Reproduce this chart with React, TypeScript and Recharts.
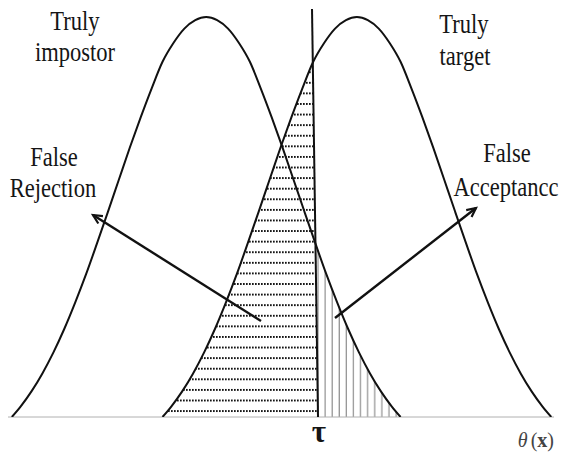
import React from 'react';
import { ComposedChart, Line, Area, XAxis, YAxis, ReferenceLine } from 'recharts';

// θ(x) positions and densities (θ scale 0..100, density peak = 1)
const impostorTheta = [0.7, 2.3, 4.3, 6.3, 8.3, 10.3, 12.3, 14.3, 16.3, 18.3, 20.3, 22.3, 24.3, 26.3, 28.3, 30.3, 32.3, 34.3, 36.3, 38.3, 40.3, 42.3, 44.3, 46.3, 48.3, 50.3, 52.3, 54.3, 56.3, 58.3, 60.3, 62.3, 64.3, 66.3, 68.3, 70.3, 71.9];
const impostorDensity = [0, 0.026, 0.064, 0.109, 0.161, 0.22, 0.286, 0.357, 0.434, 0.513, 0.593, 0.673, 0.749, 0.821, 0.888, 0.935, 0.971, 0.992, 1.0, 0.992, 0.971, 0.935, 0.888, 0.821, 0.749, 0.673, 0.593, 0.513, 0.434, 0.357, 0.286, 0.22, 0.161, 0.109, 0.064, 0.026, 0];
const targetTheta = [28.3, 29.9, 31.9, 33.9, 35.9, 37.9, 39.9, 41.9, 43.9, 45.9, 47.9, 49.9, 51.9, 53.9, 55.9, 57.9, 59.9, 61.9, 63.9, 65.9, 67.9, 69.9, 71.9, 73.9, 75.9, 77.9, 79.9, 81.9, 83.9, 85.9, 87.9, 89.9, 91.9, 93.9, 95.9, 97.9, 99.5];
const targetDensity = [0, 0.026, 0.064, 0.109, 0.161, 0.22, 0.286, 0.357, 0.434, 0.513, 0.593, 0.673, 0.749, 0.821, 0.888, 0.935, 0.971, 0.992, 1.0, 0.992, 0.971, 0.935, 0.888, 0.821, 0.749, 0.673, 0.593, 0.513, 0.434, 0.357, 0.286, 0.22, 0.161, 0.109, 0.064, 0.026, 0];

// threshold τ (line slightly slanted in the source: top, bottom)
const tauTopTheta = 55.68;
const tauBottomTheta = 56.78;
const tauTargetCross = { x: 55.82, y: 0.886 };
const tauImpostorCrossTheta = 56.3;

// annotation arrows (tail -> head) in θ / density units
const rejectionArrow = [{ x: 46.34, y: 0.24 }, { x: 15.57, y: 0.505 }];
const acceptanceArrow = [{ x: 59.89, y: 0.2475 }, { x: 85.71, y: 0.5225 }];

const impostorData = impostorTheta.map((x, i) => ({ x, y: impostorDensity[i] }));
const targetData = targetTheta.map((x, i) => ({ x, y: targetDensity[i] }));
const rejectionRegion = [
  ...targetData.filter((d) => d.x < tauTargetCross.x),
  tauTargetCross,
  { x: tauBottomTheta, y: 0 },
];
const acceptanceRegion = impostorData.filter((d) => d.x >= tauImpostorCrossTheta);

const FONT = "'Liberation Serif', 'Times New Roman', serif";

const ArrowShape = (props: any) => {
  const { x1, y1, x2, y2 } = props;
  if ([x1, y1, x2, y2].some((v) => typeof v !== 'number' || isNaN(v))) return null;
  const ang = Math.atan2(y2 - y1, x2 - x1);
  const L = 10;
  const a = 0.45;
  const p1 = [x2 - L * Math.cos(ang - a), y2 - L * Math.sin(ang - a)];
  const p2 = [x2 - L * Math.cos(ang + a), y2 - L * Math.sin(ang + a)];
  return (
    <g>
      <line x1={x1} y1={y1} x2={x2} y2={y2} stroke="#111" strokeWidth={2.4} />
      <polyline
        points={`${p1[0]},${p1[1]} ${x2},${y2} ${p2[0]},${p2[1]}`}
        fill="none"
        stroke="#111"
        strokeWidth={2.2}
        strokeLinejoin="miter"
      />
    </g>
  );
};

const textStyle = { fontFamily: FONT, fontSize: 23, fill: '#151515' } as const;

const Label = ({ x, y, children }: { x: number; y: number; children: React.ReactNode }) => (
  <text
    x={0}
    y={0}
    transform={`translate(${x} ${y}) scale(0.98 1.17)`}
    textAnchor="middle"
    style={textStyle}
  >
    {children}
  </text>
);

export default function App() {
  return (
    <div style={{ position: 'absolute', left: 0, top: 0, background: '#fff' }}>
      <ComposedChart
        width={565}
        height={457}
        margin={{ top: 9, right: 11, bottom: 40, left: 8 }}
      >
        <defs>
          <pattern id="dots" patternUnits="userSpaceOnUse" width={3} height={10.59}>
            <rect x={0} y={7.7} width={1.7} height={1.9} fill="#111" />
          </pattern>
          <pattern id="vlines" patternUnits="userSpaceOnUse" width={7.1} height={10}>
            <rect x={5.0} y={0} width={1.1} height={10} fill="#858585" />
          </pattern>
        </defs>
        <XAxis type="number" dataKey="x" domain={[0, 100]} hide allowDataOverflow />
        <YAxis type="number" domain={[0, 1.02]} hide allowDataOverflow />
        <Area
          data={rejectionRegion}
          dataKey="y"
          type="linear"
          stroke="none"
          fill="url(#dots)"
          fillOpacity={1}
          isAnimationActive={false}
        />
        <Area
          data={acceptanceRegion}
          dataKey="y"
          type="linear"
          stroke="none"
          fill="url(#vlines)"
          fillOpacity={1}
          isAnimationActive={false}
        />
        <ReferenceLine y={0} stroke="#b0b0b0" strokeWidth={1} />
        <Line
          data={impostorData}
          dataKey="y"
          type="monotone"
          stroke="#111"
          strokeWidth={2}
          dot={false}
          activeDot={false}
          isAnimationActive={false}
        />
        <Line
          data={targetData}
          dataKey="y"
          type="monotone"
          stroke="#111"
          strokeWidth={2}
          dot={false}
          activeDot={false}
          isAnimationActive={false}
        />
        <ReferenceLine
          segment={[{ x: tauTopTheta, y: 1.02 }, { x: tauBottomTheta, y: 0 }]}
          stroke="#111"
          strokeWidth={2}
        />
        <ReferenceLine segment={rejectionArrow} shape={ArrowShape} />
        <ReferenceLine segment={acceptanceArrow} shape={ArrowShape} />

        <Label x={75} y={30}>Truly</Label>
        <Label x={75} y={61}>impostor</Label>
        <Label x={464} y={33}>Truly</Label>
        <Label x={465} y={65}>target</Label>
        <Label x={54} y={166}>False</Label>
        <Label x={53} y={197}>Rejection</Label>
        <Label x={507} y={162}>False</Label>
        <Label x={506} y={196}>Acceptancc</Label>
        <text x={319} y={442} textAnchor="middle" style={{ fontFamily: FONT, fontSize: 31, fontWeight: 700, fill: '#151515' }}>τ</text>
        <text x={554} y={447} textAnchor="end" style={{ fontFamily: FONT, fontSize: 20, fill: '#444' }}>
          <tspan fontStyle="italic">θ</tspan>
          <tspan dx={3}>(</tspan>
          <tspan fontWeight={700}>x</tspan>
          <tspan>)</tspan>
        </text>
      </ComposedChart>
    </div>
  );
}
